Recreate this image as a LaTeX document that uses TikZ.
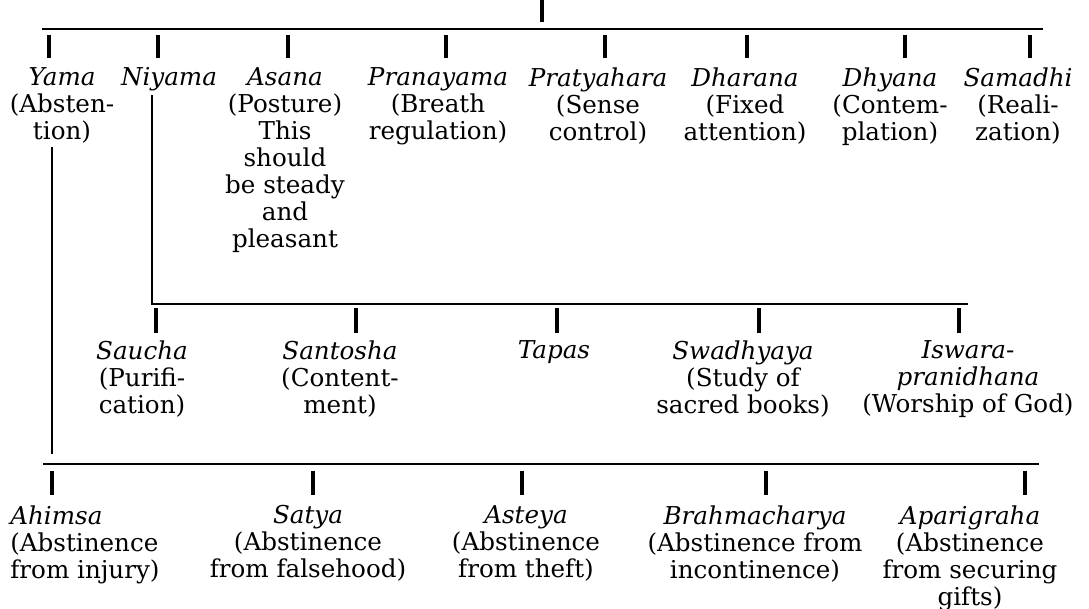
\documentclass[tikz,border=0pt]{standalone}
\usepackage{fontspec}
\setmainfont{DejaVu Serif}
\begin{document}
\begin{tikzpicture}[
		lbl/.style={align=center,anchor=north,inner sep=0pt,font=\fontsize{14}{15.4}\selectfont},
		bar/.style={line width=1pt},
		stem/.style={line width=2pt}]
		\useasboundingbox (0,0) rectangle (21.78,-12.18);
		% Labels: the eight limbs
		\draw (1.24,-1.34) node[lbl] (yama) {\textit{Yama}\\(Absten-\\tion)};
		\draw (3.38,-1.34) node[lbl] (niyama) {\textit{Niyama}};
		\draw (5.70,-1.34) node[lbl] (asana) {\textit{Asana}\\(Posture)\\This\\should\\be steady\\and\\pleasant};
		\draw (8.76,-1.34) node[lbl] (pranayama) {\textit{Pranayama}\\(Breath\\regulation)};
		\draw (11.96,-1.34) node[lbl] (pratyahara) {\textit{Pratyahara}\\(Sense\\control)};
		\draw (14.90,-1.34) node[lbl] (dharana) {\textit{Dharana}\\(Fixed\\attention)};
		\draw (17.80,-1.34) node[lbl] (dhyana) {\textit{Dhyana}\\(Contem-\\plation)};
		\draw (20.36,-1.34) node[lbl] (samadhi) {\textit{Samadhi}\\(Reali-\\zation)};
		% Labels: Niyama
		\draw (2.84,-6.80) node[lbl] (saucha) {\textit{Saucha}\\(Purifi-\\cation)};
		\draw (6.80,-6.80) node[lbl] (santosha) {\textit{Santosha}\\(Content-\\ment)};
		\draw (11.08,-6.80) node[lbl] (tapas) {\textit{Tapas}};
		\draw (14.86,-6.80) node[lbl] (swadhyaya) {\textit{Swadhyaya}\\(Study of\\sacred books)};
		\draw (19.36,-6.80) node[lbl] (iswara) {\textit{Iswara-}\\\textit{pranidhana}\\(Worship of God)};
		% Labels: Yama
		\draw (0.20,-10.10) node[lbl,anchor=north west,align=left] (ahimsa) {\textit{Ahimsa}\\(Abstinence\\from injury)};
		\draw (6.16,-10.10) node[lbl] (satya) {\textit{Satya}\\(Abstinence\\from falsehood)};
		\draw (10.52,-10.10) node[lbl] (asteya) {\textit{Asteya}\\(Abstinence\\from theft)};
		\draw (15.10,-10.10) node[lbl] (brahmacharya) {\textit{Brahmacharya}\\(Abstinence from\\incontinence)};
		\draw (19.40,-10.10) node[lbl] (aparigraha) {\textit{Aparigraha}\\(Abstinence\\from securing\\gifts)};
		% Bars
		\coordinate (top) at (10.84,0);
		\draw[stem] (top) -- ++(0,-0.44);
		\draw[bar] (0.84,-0.58) -- (20.86,-0.58);
		\draw[bar,shorten <=2pt] (niyama.south -| 3.04,0) |- (19.36,-6.08);
		\draw[bar,shorten <=2pt,shorten >=0.2cm] (yama.south -| 1.04,0) -- (1.04,-9.28);
		\draw[bar] (0.86,-9.28) -- (20.78,-9.28);
		% Stems
		\foreach \x/\n in {0.98/yama,3.16/niyama,5.76/asana,8.92/pranayama,12.10/pratyahara,14.94/dharana,18.10/dhyana,20.60/samadhi}
			\draw[stem,shorten >=0.18cm] (\x,-0.70) -- (\x,0 |- \n.north);
		\foreach \x/\n in {3.12/saucha,7.12/santosha,11.14/tapas,15.18/swadhyaya,19.18/iswara}
			\draw[stem,shorten >=0.14cm] (\x,-6.16) -- (\x,0 |- \n.north);
		\foreach \x/\n in {1.04/ahimsa,6.26/satya,10.44/asteya,15.32/brahmacharya,20.50/aparigraha}
			\draw[stem,shorten >=0.2cm] (\x,-9.42) -- (\x,0 |- \n.north);
	\end{tikzpicture}
\end{document}
